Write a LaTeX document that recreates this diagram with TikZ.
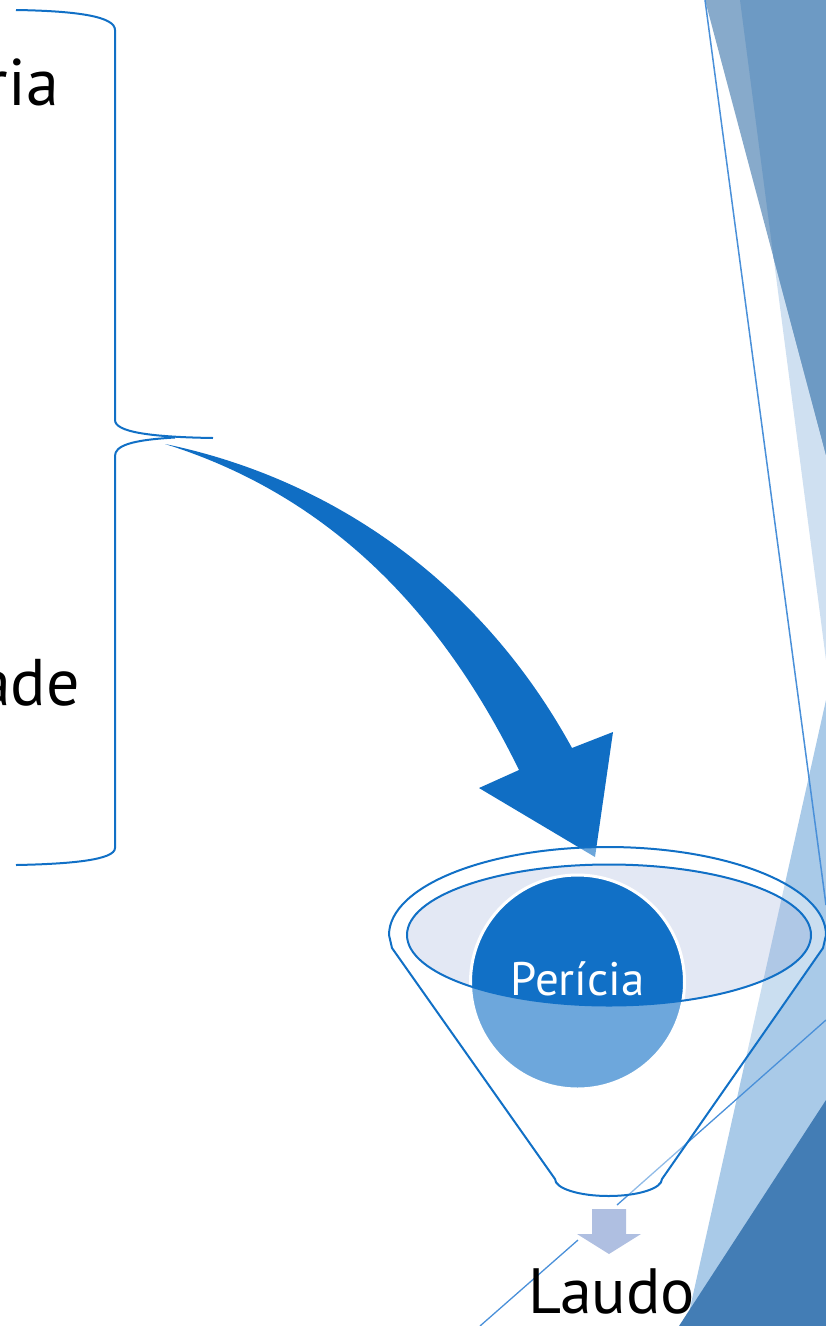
\documentclass[tikz,border=0pt]{standalone}
\usepackage{fontspec}
\setmainfont{PT Sans}
\definecolor{linecol}{HTML}{1170C6}
\definecolor{thincol}{HTML}{4A90D9}
\definecolor{arrowcol}{HTML}{106EC4}
\definecolor{bgmed}{HTML}{87AACB}
\definecolor{bgdark}{HTML}{6D9AC4}
\definecolor{bglight}{HTML}{CFE0F1}
\definecolor{bgsky}{HTML}{A9CAE8}
\definecolor{bgdeep}{HTML}{437DB5}
\definecolor{lav}{HTML}{B9C5E3}
\definecolor{downcol}{HTML}{AFBFE1}
\begin{document}
\begin{tikzpicture}[x=1pt,y=-1pt,
  brace/.style={draw=linecol,line width=2pt},
  thinline/.style={draw=thincol,line width=1.5pt},
  funnelline/.style={draw=linecol,line width=2pt},
  bigtext/.style={font=\fontsize{66}{70}\selectfont,inner sep=0pt},
  midtext/.style={font=\fontsize{47}{52}\selectfont,inner sep=0pt,text=white}]
\useasboundingbox (0,0) rectangle (826,1326);
\clip (0,0) rectangle (826,1326);
% background facets
\fill[bglight] (740,0) -- (826,0) -- (826,660) -- cycle;
\fill[bgmed] (705,0) -- (826,0) -- (826,455) -- cycle;
\fill[bgdark] (740,0) -- (826,0) -- (826,455) -- (773.6,258) -- cycle;
\fill[bgsky] (826,700) -- (826,1326) -- (686,1326) -- cycle;
\fill[bgdeep] (826,1100) -- (826,1326) -- (679,1326) -- cycle;
% thin lines
\coordinate (l1a) at (705,0);
\coordinate (l1b) at (826,905);
\draw[thinline] (l1a) -- (l1b);
\coordinate (l2a) at (826,1020);
\coordinate (l2b) at (617,1205);
\coordinate (l2c) at (578,1240);
\coordinate (l2d) at (480,1326);
\draw[thinline,line width=1.3pt] (l2a) -- (l2b);
\draw[thinline,line width=1.3pt] (l2c) -- (l2d);
% braces
\coordinate (btip) at (213,438);
\draw[brace] (16,10) .. controls (80,11) and (115,17) .. (115,30) -- (115,420)
  .. controls (115,432) and (150,437) .. (btip);
\draw[brace] (175,437.5) .. controls (130,440) and (115,446) .. (115,456) -- (115,848)
  .. controls (115,860) and (70,864) .. (16,865);
% curved arrow
\fill[arrowcol] (165,444) .. controls (330,478) and (480,580) .. (572,748)
  -- (613,732) -- (595,857) -- (479,788) -- (519,770)
  .. controls (432,592) and (312,490) .. (165,444) -- cycle;
% inner ellipse fill
\fill[lav,fill opacity=0.4] (609,935) ellipse [x radius=202, y radius=70.5];
% circle
\node[circle,fill=linecol,draw=white,line width=3pt,minimum size=214pt,inner sep=0pt] (circ) at (577.5,982) {};
% funnel body
\path[fill=white,fill opacity=0.39,even odd rule]
  (389,935) arc[start angle=180,end angle=360,x radius=218.5,y radius=88]
  -- (823,948) -- (662,1179)
  arc[start angle=0,end angle=180,x radius=53.5,y radius=17]
  -- (392,948) -- cycle
  (609,935) ellipse [x radius=202, y radius=70.5];
\draw[funnelline,line join=round]
  (389,935) arc[start angle=180,end angle=360,x radius=218.5,y radius=88]
  -- (823,948) -- (662,1179)
  arc[start angle=0,end angle=180,x radius=53.5,y radius=17]
  -- (392,948) -- cycle;
\draw[funnelline] (609,935) ellipse [x radius=202, y radius=70.5];
% texts
\node[midtext,anchor=base] (pericia) at (577.5,995) {Perícia};
\fill[downcol] (592,1209) -- (626,1209) -- (626,1234) -- (641,1234) -- (609,1254) -- (577,1234) -- (592,1234) -- cycle;
\node[bigtext,font=\fontsize{64}{68}\selectfont,anchor=base west] (laudo) at (528,1313) {Laudo};
\node[bigtext,anchor=base east] (ria) at (59,105) {ria};
\node[bigtext,anchor=base east] (ade) at (80,705) {ade};
\end{tikzpicture}
\end{document}
